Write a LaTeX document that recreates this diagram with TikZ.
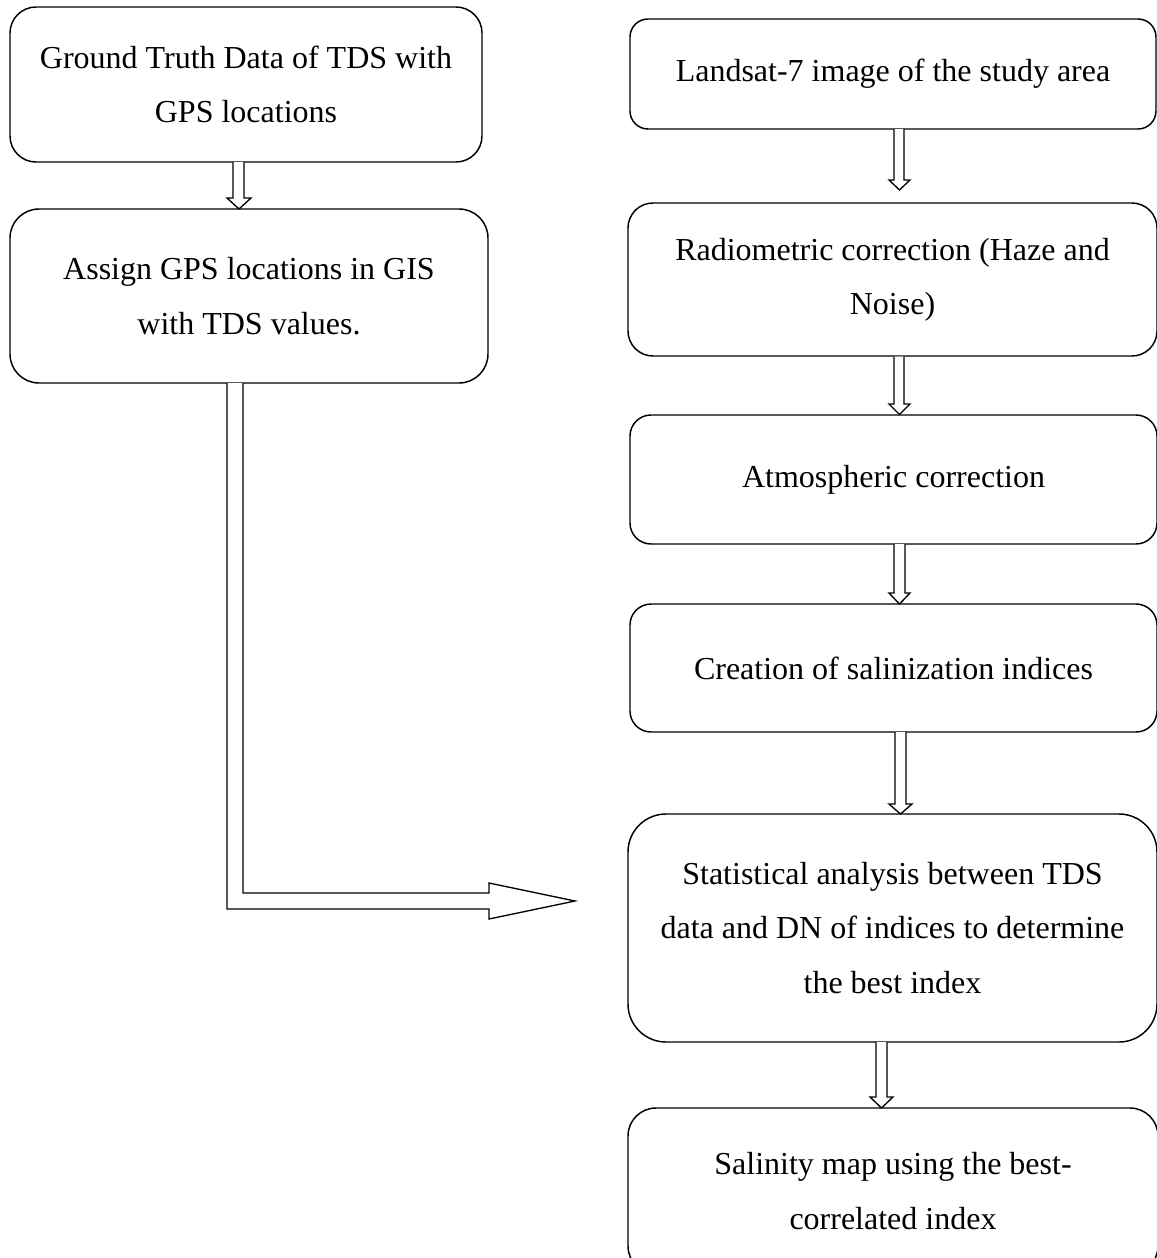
\documentclass[tikz,border=0pt]{standalone}
\usepackage{fontspec}
\setmainfont{Liberation Serif}
\begin{document}
\begin{tikzpicture}[x=0.375pt,y=-0.375pt,
  box/.style={draw, line width=0.55pt, align=center, inner sep=0pt,
    font=\fontsize{12}{20.4}\selectfont},
  barrow/.style={draw, line width=0.5pt, fill=white, line join=miter}]
\useasboundingbox (0,0) rectangle (1157,1258);

% left column
\node[box, minimum width=472*0.375pt, minimum height=155*0.375pt, rounded corners=26*0.375pt] (l1) at (246,84.5)
  {Ground Truth Data of TDS with\\GPS locations};
\node[box, minimum width=478*0.375pt, minimum height=174*0.375pt, rounded corners=29*0.375pt] (l2) at (249,296)
  {Assign GPS locations in GIS\\with TDS values.};

% right column
\node[box, minimum width=526*0.375pt, minimum height=110*0.375pt, rounded corners=18*0.375pt] (r1) at (893,74)
  {Landsat-7 image of the study area};
\node[box, minimum width=529*0.375pt, minimum height=153*0.375pt, rounded corners=25*0.375pt] (r2) at (892.5,279.5)
  {Radiometric correction (Haze and\\Noise)};
\node[box, minimum width=527*0.375pt, minimum height=129*0.375pt, rounded corners=21*0.375pt] (r3) at (893.5,479.5)
  {Atmospheric correction};
\node[box, minimum width=527*0.375pt, minimum height=128*0.375pt, rounded corners=21*0.375pt] (r4) at (893.5,668)
  {Creation of salinization indices};
\node[box, minimum width=529*0.375pt, minimum height=228*0.375pt, rounded corners=38*0.375pt] (r5) at (892.5,928)
  {Statistical analysis between TDS\\data and DN of indices to determine\\the best index};
\node[box, minimum width=530*0.375pt, minimum height=166*0.375pt, rounded corners=28*0.375pt] (r6) at (893,1191)
  {Salinity map using the best-\\correlated index};

% small block arrows
\draw[barrow] (233,162) -- (233,198) -- (227,198) -- (239,209) -- (251,198) -- (244,198) -- (244,162);
\draw[barrow] (894,129) -- (894,180) -- (889,180) -- (899.5,190) -- (910,180) -- (904,180) -- (904,129);
\draw[barrow] (894,356.5) -- (894,404) -- (889,404) -- (899.5,414.5) -- (910,404) -- (904,404) -- (904,356.5);
\draw[barrow] (894,544) -- (894,593) -- (889,593) -- (899.5,604) -- (910,593) -- (905,593) -- (905,544);
\draw[barrow] (895,732) -- (895,804) -- (889,804) -- (900.5,814) -- (912,804) -- (906,804) -- (906,732);
\draw[barrow] (876,1042) -- (876,1097) -- (870,1097) -- (881.5,1108) -- (893,1097) -- (887,1097) -- (887,1042);

% big L-shaped block arrow
\draw[barrow] (227,383) -- (227,909) -- (489,909) -- (489,919) -- (575,901) -- (489,883) -- (489,893) -- (243,893) -- (243,383);
\end{tikzpicture}
\end{document}
